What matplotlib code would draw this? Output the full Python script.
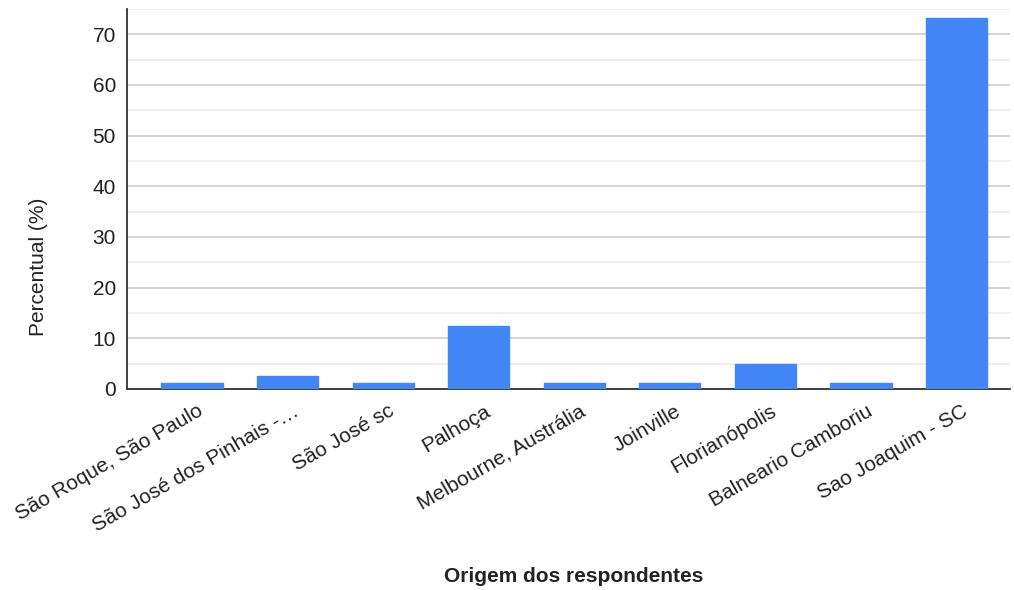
import numpy as np
import matplotlib
matplotlib.use('Agg')
from matplotlib import pyplot as plt
from matplotlib import transforms

plt.rcParams['font.family'] = ['Liberation Sans', 'DejaVu Sans']

# dados
origens = ['São Roque, São Paulo', 'São José dos Pinhais -…', 'São José sc',
           'Palhoça', 'Melbourne, Austrália', 'Joinville', 'Florianópolis',
           'Balneario Camboriu', 'Sao Joaquim - SC']
percentual = [1.2, 2.5, 1.2, 12.5, 1.2, 1.2, 4.9, 1.2, 73.2]

fig = plt.figure(figsize=(10.14, 5.90), dpi=100)
ax = fig.add_axes([127/1014, 1-389/590, (1010-127)/1014, (389-9)/590])

x = np.arange(len(origens))
ax.bar(x, percentual, width=0.64, color='#4285f4', edgecolor='#4285f4',
       linewidth=1, joinstyle='round', zorder=3)

ax.set_xlim(-0.68, 8.56)
ax.set_ylim(0, 75)
ax.set_yticks(np.arange(0, 71, 10))
ax.set_yticks(np.arange(5, 76, 10), minor=True)
ax.grid(True, axis='y', which='major', color='#cccccc', linewidth=1.2, zorder=0)
ax.grid(True, axis='y', which='minor', color='#ebebeb', linewidth=1.2, zorder=0)
ax.tick_params(axis='both', which='both', length=0, labelsize=15, colors='#222222')
ax.tick_params(axis='y', pad=8)

for s in ['top', 'right']:
    ax.spines[s].set_visible(False)
ax.spines['left'].set_color('#333333')
ax.spines['bottom'].set_color('#333333')
ax.spines['left'].set_linewidth(1.3)
ax.spines['bottom'].set_linewidth(1.3)

ax.set_xticks(x)
ax.set_xticklabels(origens, rotation=30, ha='right', va='center', rotation_mode='anchor')
off = transforms.ScaledTranslation(10/100, -16/100, fig.dpi_scale_trans)
for lbl in ax.get_xticklabels():
    lbl.set_transform(lbl.get_transform() + off)

fig.text(38/1014, 1-267/590, 'Percentual (%)', fontsize=15, rotation=90,
         ha='center', va='center', color='#222222')
fig.text(574/1014, 1-576/590, 'Origem dos respondentes', fontsize=15,
         fontweight='bold', ha='center', va='center', color='#222222')

plt.savefig('out.png', dpi=100)
